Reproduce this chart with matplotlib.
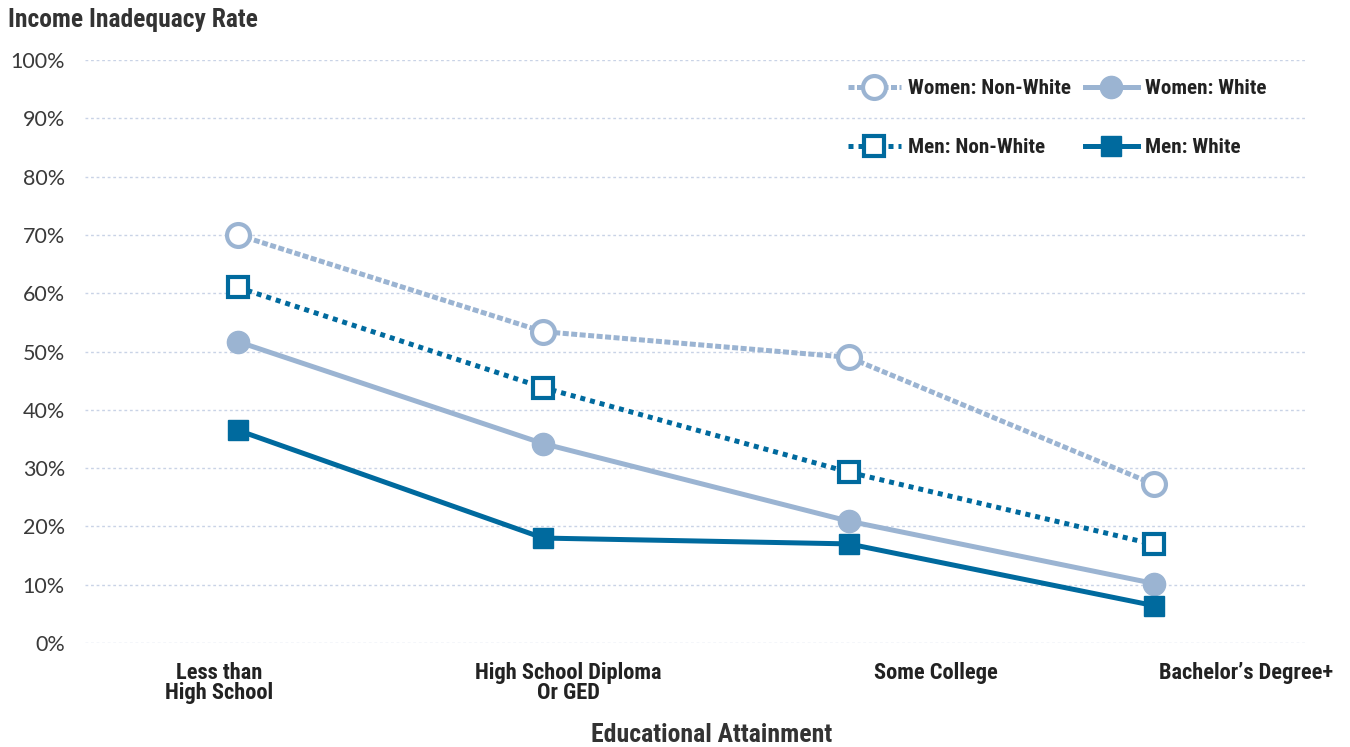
import matplotlib
matplotlib.use("Agg")
import matplotlib.pyplot as plt

categories = ["Less than\nHigh School", "High School Diploma\nOr GED", "Some College", "Bachelor\u2019s Degree+"]
women_nonwhite = [70.0, 53.4, 49.0, 27.2]
men_nonwhite = [61.0, 43.8, 29.3, 16.9]
women_white = [51.7, 34.2, 20.9, 10.2]
men_white = [36.5, 18.0, 17.0, 6.4]
yticks = [0, 10, 20, 30, 40, 50, 60, 70, 80, 90, 100]
ytick_labels = [f"{v}%" for v in yticks]

LIGHT = "#9bb4d2"
DARK = "#006a9e"
GRID = "#c9d3e6"
BOLD = ["Roboto Condensed", "DejaVu Sans"]
REG = ["Lato", "DejaVu Sans"]
LW = 3.6
# horizontal shift (pixels) of each category label relative to its tick, as in the reference
label_shift_px = [-19, 25, 87, 92]

fig = plt.figure(figsize=(13.5, 7.47), dpi=100)
ax = fig.add_axes([85/1350, 1-643/747, (1307-85)/1350, (643-60)/747])
x = list(range(len(categories)))

l_wnw, = ax.plot(x, women_nonwhite, color=LIGHT, lw=LW, ls=(0, (1.2, 0.5)), marker="o", ms=16.5,
                 mfc="white", mec=LIGHT, mew=3, clip_on=False, zorder=3, label="Women: Non-White")
l_ww, = ax.plot(x, women_white, color=LIGHT, lw=LW, ls="-", marker="o", ms=16,
                mfc=LIGHT, mec=LIGHT, clip_on=False, zorder=3, label="Women: White")
l_mnw, = ax.plot(x, men_nonwhite, color=DARK, lw=LW, ls=(0, (1, 1)), marker="s", ms=14,
                 mfc="white", mec=DARK, mew=3, clip_on=False, zorder=4, label="Men: Non-White")
l_mw, = ax.plot(x, men_white, color=DARK, lw=LW, ls="-", marker="s", ms=14,
                mfc=DARK, mec=DARK, clip_on=False, zorder=4, label="Men: White")

ax.set_xlim(-0.5, 3.5)
ax.set_ylim(0, 100)
ax.set_yticks(yticks)
ax.set_yticklabels(ytick_labels, fontsize=15.5, color="#3a3a3a", family=REG, fontweight="normal")
ax.set_xticks(x)
ax.set_xticklabels([])
for xi, lab, dx in zip(x, categories, label_shift_px):
    ax.annotate(lab, xy=(xi, 0), xycoords=ax.get_xaxis_transform(),
                xytext=(dx * 72 / 100, -13.5), textcoords="offset points",
                ha="center", va="top", fontsize=16.2, fontweight="bold", color="#222222",
                family=BOLD, linespacing=0.92, annotation_clip=False)
ax.tick_params(axis="both", length=0)
ax.tick_params(axis="y", pad=14.5)
for s in ax.spines.values():
    s.set_visible(False)
ax.yaxis.grid(True, color=GRID, ls=(0, (2, 2)), lw=1)
ax.set_axisbelow(True)

prop = {"family": BOLD, "weight": "bold", "size": 15.2}
common = dict(frameon=False, handlelength=2.5, handletextpad=0.35, labelspacing=1.9,
              borderaxespad=0, borderpad=0, loc="upper left", prop=prop)
top = 1 - (79 - 60) / 583
leg1 = ax.legend([l_wnw, l_mnw], ["Women: Non-White", "Men: Non-White"],
                 bbox_to_anchor=((848 - 85) / 1222, top), **common)
ax.add_artist(leg1)
leg2 = ax.legend([l_ww, l_mw], ["Women: White", "Men: White"],
                 bbox_to_anchor=((1085 - 85) / 1222, top), **common)
for lg in (leg1, leg2):
    for t in lg.get_texts():
        t.set_color("#222222")

fig.text(8/1350, 1-20/747, "Income Inadequacy Rate", fontsize=18.4, fontweight="bold",
         family=BOLD, color="#333333", va="center", ha="left")
fig.text(712/1350, 1-735/747, "Educational Attainment", fontsize=18.5, fontweight="bold",
         family=BOLD, color="#333333", va="center", ha="center")

fig.savefig("out.png", dpi=100)
